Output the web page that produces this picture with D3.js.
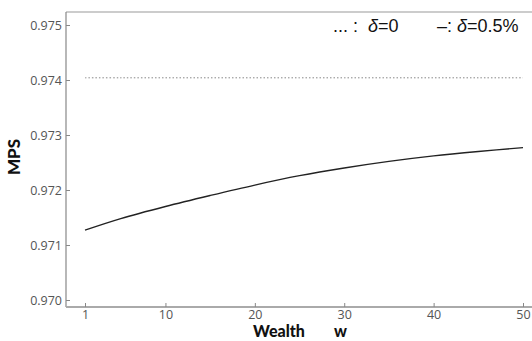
<!DOCTYPE html>
<html><head><meta charset="utf-8">
<script src="https://cdn.jsdelivr.net/npm/d3@7/dist/d3.min.js"></script>
<style>body{margin:0;background:#fff}svg{display:block}</style>
</head><body><svg id="c" width="532" height="341"></svg>
<script>
const wealth = [1, 5, 10, 15, 20, 25, 30, 35, 40, 45, 50];
const mpsDelta05 = [0.97127, 0.97148, 0.97170, 0.97190, 0.97209, 0.97226, 0.97240, 0.97252, 0.97262, 0.97270, 0.97277];
const mpsDelta0 = [0.97404, 0.97404, 0.97404, 0.97404, 0.97404, 0.97404, 0.97404, 0.97404, 0.97404, 0.97404, 0.97404];
const xTicks = [1, 10, 20, 30, 40, 50];
const yTicks = [0.970, 0.971, 0.972, 0.973, 0.974, 0.975];

const svg = d3.select("#c");
const x = d3.scaleLinear().domain([1, 50]).range([85, 523]);
const y = d3.scaleLinear().domain([0.970, 0.975]).range([300, 25]);
const fLeft = 66, fTop = 12, fBottom = 307, fRight = 532;

// frame
svg.append("line").attr("x1", fLeft).attr("x2", fRight).attr("y1", fTop).attr("y2", fTop)
  .attr("stroke", "#999").attr("stroke-width", 1.2);
svg.append("line").attr("x1", fLeft).attr("x2", fLeft).attr("y1", fTop).attr("y2", fBottom)
  .attr("stroke", "#888").attr("stroke-width", 1.2);
svg.append("line").attr("x1", fLeft).attr("x2", fRight).attr("y1", fBottom).attr("y2", fBottom)
  .attr("stroke", "#aaa").attr("stroke-width", 2);

const tf = "'Open Sans', 'DejaVu Sans', sans-serif";
// y ticks
const yAxis = d3.axisLeft(y).tickValues(yTicks).tickFormat(d3.format(".3f")).tickSize(-4).tickPadding(4);
const gy = svg.append("g").attr("transform", `translate(${fLeft},0)`).call(yAxis);
gy.select(".domain").remove();
gy.selectAll("line").attr("stroke", "#888");
gy.selectAll("text").attr("fill", "#555").attr("font-size", 12.5).attr("font-family", tf);

// x ticks
const xAxis = d3.axisBottom(x).tickValues(xTicks).tickFormat(d3.format("d")).tickSize(-4).tickPadding(3);
const gx = svg.append("g").attr("transform", `translate(0,${fBottom})`).call(xAxis);
gx.select(".domain").remove();
gx.selectAll("line").attr("stroke", "#888");
gx.selectAll("text").attr("fill", "#555").attr("font-size", 12.5).attr("font-family", tf);

// lines
const line = d3.line().x((d, i) => x(wealth[i])).y(d => y(d)).curve(d3.curveCatmullRom);
svg.append("path").attr("d", line(mpsDelta0)).attr("fill", "none")
  .attr("stroke", "#888").attr("stroke-width", 1).attr("stroke-dasharray", "1.5,2");
svg.append("path").attr("d", line(mpsDelta05)).attr("fill", "none")
  .attr("stroke", "#222").attr("stroke-width", 1.3);

// axis labels
const lf = "'Lato', 'DejaVu Sans', sans-serif";
svg.append("text").attr("x", 253).attr("y", 337).attr("font-family", lf).attr("font-weight", 900)
  .attr("font-size", 16).attr("fill", "#111").text("Wealth");
svg.append("text").attr("x", 334).attr("y", 337).attr("font-family", lf).attr("font-weight", 900)
  .attr("font-size", 16).attr("fill", "#111").text("w");
svg.append("text").attr("transform", "translate(20,157) rotate(-90)").attr("text-anchor", "middle")
  .attr("font-family", lf).attr("font-weight", 900).attr("font-size", 17).attr("fill", "#111").text("MPS");

// legend
const leg = svg.append("text").attr("x", 333).attr("y", 32).attr("font-family", "'Liberation Sans', Arial, sans-serif")
  .attr("font-size", 18).attr("fill", "#111").attr("xml:space", "preserve");
leg.append("tspan").text("... :  ");
leg.append("tspan").attr("font-style", "italic").text("δ");
leg.append("tspan").text("=0");
const leg2 = svg.append("text").attr("x", 437).attr("y", 32).attr("font-family", "'Liberation Sans', Arial, sans-serif")
  .attr("font-size", 18).attr("fill", "#111");
leg2.append("tspan").text("\u2013: ");
leg2.append("tspan").attr("font-style", "italic").text("δ");
leg2.append("tspan").text("=0.5%");
</script></body></html>
